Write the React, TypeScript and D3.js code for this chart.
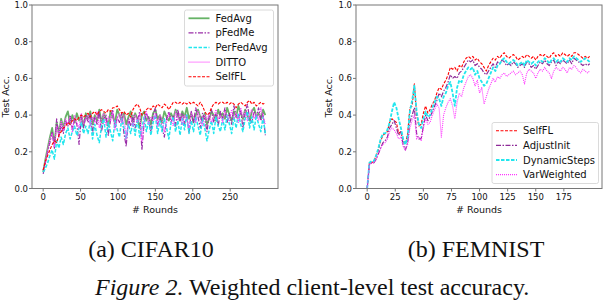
import React from "react";
import * as d3 from "d3";

// ---------- Data ----------
// (a) CIFAR10: values read every 3 rounds (0..297)
const cifarRounds = d3.range(0, 298, 3);
const cifarFedAvg = [
  0.09,0.16,0.22,0.28,0.33,0.24,0.36,0.30,0.38,0.33,0.39,0.42,0.35,0.40,0.36,0.41,0.37,0.40,0.34,0.41,
  0.38,0.42,0.35,0.40,0.37,0.43,0.36,0.41,0.38,0.34,0.42,0.39,0.36,0.43,0.40,0.37,0.41,0.35,0.39,0.42,
  0.36,0.41,0.38,0.33,0.40,0.42,0.37,0.39,0.35,0.41,0.43,0.38,0.40,0.36,0.42,0.39,0.37,0.41,0.38,0.43,
  0.40,0.37,0.42,0.39,0.44,0.38,0.41,0.36,0.40,0.43,0.39,0.37,0.41,0.35,0.38,0.42,0.40,0.37,0.43,0.39,
  0.41,0.38,0.44,0.40,0.37,0.42,0.39,0.45,0.41,0.38,0.43,0.40,0.37,0.42,0.44,0.39,0.41,0.38,0.43,0.40,
];
const cifarPFedMe = [
  0.08,0.14,0.20,0.25,0.31,0.22,0.38,0.28,0.35,0.30,0.37,0.34,0.40,0.32,0.38,0.35,0.24,0.39,0.33,0.40,
  0.36,0.41,0.30,0.39,0.35,0.42,0.31,0.38,0.40,0.29,0.37,0.43,0.33,0.39,0.36,0.41,0.30,0.23,0.38,0.34,
  0.40,0.33,0.37,0.42,0.21,0.36,0.41,0.38,0.31,0.40,0.44,0.35,0.39,0.33,0.28,0.38,0.42,0.36,0.40,0.34,
  0.43,0.37,0.41,0.35,0.40,0.30,0.42,0.36,0.44,0.39,0.33,0.41,0.38,0.31,0.40,0.43,0.36,0.41,0.34,0.42,
  0.38,0.44,0.36,0.41,0.35,0.45,0.40,0.37,0.43,0.33,0.41,0.46,0.38,0.36,0.42,0.39,0.44,0.37,0.41,0.29,
];
const cifarPerFedAvg = [
  0.09,0.11,0.14,0.18,0.21,0.16,0.26,0.22,0.28,0.24,0.30,0.33,0.27,0.31,0.34,0.29,0.33,0.36,0.30,0.34,
  0.30,0.37,0.27,0.35,0.29,0.25,0.34,0.38,0.28,0.36,0.31,0.26,0.37,0.32,0.28,0.38,0.33,0.27,0.35,0.30,
  0.36,0.29,0.38,0.28,0.33,0.39,0.31,0.37,0.29,0.36,0.40,0.30,0.37,0.31,0.38,0.33,0.27,0.36,0.39,0.31,
  0.37,0.29,0.38,0.32,0.40,0.30,0.37,0.31,0.39,0.34,0.29,0.38,0.33,0.26,0.32,0.37,0.30,0.39,0.34,0.31,
  0.38,0.32,0.40,0.35,0.30,0.39,0.33,0.41,0.35,0.31,0.38,0.42,0.33,0.39,0.32,0.40,0.35,0.31,0.39,0.30,
];
const cifarDitto = [
  0.10,0.15,0.21,0.27,0.30,0.23,0.34,0.29,0.37,0.32,0.38,0.35,0.39,0.31,0.40,0.36,0.33,0.41,0.35,0.38,
  0.40,0.34,0.39,0.36,0.42,0.33,0.38,0.41,0.35,0.39,0.37,0.42,0.32,0.38,0.41,0.36,0.40,0.27,0.37,0.39,
  0.34,0.40,0.36,0.41,0.26,0.38,0.42,0.35,0.39,0.37,0.41,0.34,0.40,0.38,0.31,0.36,0.41,0.38,0.34,0.42,
  0.37,0.41,0.35,0.40,0.38,0.33,0.41,0.39,0.36,0.42,0.38,0.34,0.40,0.37,0.41,0.36,0.39,0.43,0.38,0.40,
  0.36,0.42,0.39,0.37,0.43,0.38,0.41,0.36,0.44,0.39,0.42,0.37,0.40,0.43,0.38,0.41,0.37,0.44,0.39,0.35,
];
const cifarSelfFL = [
  0.10,0.15,0.18,0.21,0.24,0.26,0.25,0.29,0.31,0.33,0.34,0.36,0.35,0.37,0.38,0.37,0.39,0.40,0.39,0.40,
  0.41,0.39,0.41,0.42,0.40,0.42,0.43,0.42,0.41,0.43,0.42,0.44,0.44,0.45,0.43,0.41,0.42,0.40,0.41,0.39,
  0.43,0.45,0.46,0.44,0.40,0.41,0.43,0.44,0.43,0.45,0.44,0.46,0.45,0.44,0.46,0.45,0.43,0.45,0.47,0.47,
  0.46,0.47,0.46,0.47,0.46,0.47,0.46,0.47,0.46,0.45,0.47,0.45,0.42,0.40,0.41,0.44,0.46,0.47,0.46,0.47,
  0.47,0.46,0.47,0.46,0.47,0.46,0.44,0.46,0.47,0.46,0.45,0.47,0.48,0.46,0.47,0.45,0.46,0.47,0.46,0.47,
];

// (b) FEMNIST: values read every 2 rounds (0..198)
const femRounds = d3.range(0, 199, 2);
const femSelfFL = [
  0.00,0.14,0.14,0.15,0.18,0.21,0.26,0.29,0.30,0.31,0.36,0.38,0.37,0.36,0.30,0.31,0.26,0.24,0.30,0.44,
  0.45,0.57,0.40,0.34,0.35,0.41,0.45,0.41,0.43,0.46,0.48,0.52,0.55,0.54,0.57,0.59,0.62,0.66,0.65,0.66,
  0.64,0.67,0.66,0.69,0.71,0.72,0.71,0.72,0.70,0.71,0.69,0.68,0.66,0.64,0.67,0.69,0.71,0.70,0.72,0.71,
  0.73,0.74,0.72,0.71,0.72,0.73,0.72,0.70,0.71,0.72,0.71,0.73,0.72,0.71,0.72,0.70,0.72,0.73,0.72,0.73,
  0.72,0.71,0.73,0.74,0.72,0.73,0.72,0.74,0.73,0.72,0.73,0.72,0.74,0.74,0.73,0.72,0.71,0.72,0.71,0.72,
];
const femAdjustInit = [
  0.00,0.13,0.14,0.14,0.16,0.19,0.22,0.25,0.26,0.28,0.33,0.35,0.37,0.33,0.29,0.31,0.24,0.21,0.25,0.36,
  0.40,0.44,0.30,0.27,0.27,0.34,0.40,0.37,0.39,0.42,0.45,0.48,0.52,0.50,0.53,0.55,0.58,0.62,0.60,0.61,
  0.60,0.63,0.64,0.66,0.68,0.70,0.69,0.70,0.67,0.68,0.66,0.65,0.63,0.62,0.64,0.66,0.68,0.66,0.69,0.68,
  0.70,0.69,0.67,0.68,0.67,0.69,0.68,0.66,0.67,0.68,0.66,0.69,0.68,0.66,0.67,0.65,0.67,0.69,0.68,0.70,
  0.68,0.67,0.69,0.70,0.67,0.69,0.68,0.70,0.69,0.68,0.70,0.68,0.71,0.70,0.69,0.68,0.67,0.68,0.67,0.68,
];
const femDynamicSteps = [
  0.00,0.14,0.15,0.15,0.18,0.22,0.27,0.30,0.30,0.32,0.36,0.42,0.47,0.44,0.38,0.33,0.27,0.24,0.28,0.42,
  0.48,0.56,0.42,0.35,0.33,0.38,0.42,0.39,0.40,0.44,0.47,0.50,0.49,0.45,0.50,0.52,0.56,0.58,0.52,0.45,
  0.55,0.59,0.58,0.62,0.64,0.66,0.65,0.66,0.62,0.64,0.60,0.58,0.56,0.57,0.60,0.63,0.66,0.64,0.67,0.68,
  0.70,0.71,0.69,0.68,0.69,0.70,0.69,0.67,0.68,0.69,0.67,0.70,0.69,0.68,0.69,0.67,0.69,0.70,0.69,0.71,
  0.70,0.68,0.70,0.71,0.69,0.70,0.69,0.71,0.70,0.69,0.71,0.70,0.72,0.71,0.70,0.69,0.70,0.71,0.70,0.69,
];
const femVarWeighted = [
  0.00,0.13,0.14,0.14,0.16,0.19,0.22,0.24,0.25,0.27,0.31,0.33,0.32,0.30,0.27,0.28,0.23,0.21,0.24,0.33,
  0.37,0.40,0.27,0.28,0.26,0.33,0.38,0.35,0.36,0.40,0.43,0.46,0.44,0.28,0.40,0.44,0.47,0.49,0.45,0.38,
  0.47,0.52,0.50,0.55,0.58,0.61,0.62,0.60,0.56,0.59,0.52,0.55,0.46,0.50,0.54,0.57,0.60,0.58,0.61,0.60,
  0.62,0.63,0.61,0.62,0.63,0.64,0.62,0.63,0.64,0.62,0.57,0.63,0.65,0.64,0.63,0.60,0.63,0.65,0.64,0.66,
  0.64,0.63,0.60,0.64,0.66,0.65,0.64,0.66,0.65,0.63,0.66,0.65,0.67,0.66,0.64,0.63,0.65,0.64,0.63,0.64,
];

const yTicks = [0, 0.2, 0.4, 0.6, 0.8, 1.0];
const cifarXTicks = [0, 50, 100, 150, 200, 250];
const femXTicks = [0, 25, 50, 75, 100, 125, 150, 175];

type Series = { name: string; values: number[]; color: string; width: number; dash: string; opacity?: number };

const cifarSeries: Series[] = [
  { name: "FedAvg", values: cifarFedAvg, color: "#4ca64c", width: 1.8, dash: "", opacity: 0.85 },
  { name: "pFedMe", values: cifarPFedMe, color: "#9a2fa8", width: 1.2, dash: "5,1.5,1.5,1.5" },
  { name: "PerFedAvg", values: cifarPerFedAvg, color: "#22e6ee", width: 1.5, dash: "3.5,1.5" },
  { name: "DITTO", values: cifarDitto, color: "#ff44ff", width: 1.3, dash: "1,1" },
  { name: "SelfFL", values: cifarSelfFL, color: "#ff0000", width: 1.1, dash: "3,1.5" },
];
const femSeries: Series[] = [
  { name: "SelfFL", values: femSelfFL, color: "#ff0000", width: 1.1, dash: "3,1.5" },
  { name: "AdjustInit", values: femAdjustInit, color: "#8e2a98", width: 1.2, dash: "5,1.5,1.5,1.5" },
  { name: "DynamicSteps", values: femDynamicSteps, color: "#22e6ee", width: 1.8, dash: "3.5,1.5" },
  { name: "VarWeighted", values: femVarWeighted, color: "#ff33ff", width: 1.1, dash: "1,1" },
];

const FONT = "DejaVu Sans, sans-serif";
const SERIF = "Liberation Serif, Times New Roman, serif";
const TOP = 5;
const BOTTOM = 188.5;

function Panel(props: {
  left: number; right: number; rounds: number[]; series: Series[]; xTicks: number[];
  maxRound: number; yLabelX: number; legend: { x: number; y: number; w: number; h: number };
}) {
  const { left, right, rounds, series, xTicks, maxRound, yLabelX, legend } = props;
  const pad = maxRound * 0.05;
  const x = d3.scaleLinear().domain([-pad, maxRound + pad]).range([left, right]);
  const y = d3.scaleLinear().domain([0, 1]).range([BOTTOM, TOP]);
  const line = d3.line<number>().x((_, i) => x(rounds[i])).y((v) => y(v));
  const axisColor = "#777";
  return (
    <g>
      <rect x={left} y={TOP} width={right - left} height={BOTTOM - TOP} fill="#fff" />
      <g>
        {series.map((s) => (
          <path key={s.name} d={line(s.values) || ""} fill="none" stroke={s.color}
            strokeWidth={s.width} strokeDasharray={s.dash || undefined} opacity={s.opacity ?? 1}
            strokeLinejoin="round" />
        ))}
      </g>
      <rect x={left} y={TOP} width={right - left} height={BOTTOM - TOP} fill="none" stroke={axisColor} strokeWidth={1} />
      {yTicks.map((t) => (
        <g key={t}>
          <line x1={left - 3} x2={left} y1={y(t)} y2={y(t)} stroke={axisColor} />
          <text x={left - 4} y={y(t) + 3} textAnchor="end" fontSize={8.5} fontFamily={FONT} fill="#111">{t.toFixed(1)}</text>
        </g>
      ))}
      {xTicks.map((t) => (
        <g key={t}>
          <line x1={x(t)} x2={x(t)} y1={BOTTOM} y2={BOTTOM + 3} stroke={axisColor} />
          <text x={x(t)} y={BOTTOM + 11} textAnchor="middle" fontSize={8.5} fontFamily={FONT} fill="#111">{t}</text>
        </g>
      ))}
      <text x={(left + right) / 2} y={213} textAnchor="middle" fontSize={9.5} fontFamily={FONT} fill="#111"># Rounds</text>
      <text transform={`translate(${yLabelX},${(TOP + BOTTOM) / 2}) rotate(-90)`} textAnchor="middle" fontSize={9.5} fontFamily={FONT} fill="#111">Test Acc.</text>
      <g>
        <rect x={legend.x} y={legend.y} width={legend.w} height={legend.h} rx={2} fill="#fff" fillOpacity={0.85} stroke="#d0d0d0" strokeWidth={0.8} />
        {series.map((s, i) => {
          const cy = legend.y + 8.3 + i * 14.6;
          return (
            <g key={s.name}>
              <line x1={legend.x + 4} x2={legend.x + 25} y1={cy} y2={cy} stroke={s.color} strokeWidth={s.width}
                strokeDasharray={s.dash || undefined} opacity={s.opacity ?? 1} />
              <text x={legend.x + 31} y={cy + 3.5} fontSize={10} fontFamily={FONT} fill="#111">{s.name}</text>
            </g>
          );
        })}
      </g>
    </g>
  );
}

export default function App() {
  return (
    <svg width={604} height={302} style={{ position: "absolute", left: 0, top: 0, background: "#fff" }}
      xmlns="http://www.w3.org/2000/svg">
      <rect width={604} height={302} fill="#fff" />
      <Panel left={32} right={278} rounds={cifarRounds} series={cifarSeries} xTicks={cifarXTicks}
        maxRound={299} yLabelX={9} legend={{ x: 184.5, y: 10, w: 89, h: 76 }} />
      <Panel left={356} right={602} rounds={femRounds} series={femSeries} xTicks={femXTicks}
        maxRound={199} yLabelX={332} legend={{ x: 492, y: 122.5, w: 106.5, h: 61 }} />
      <text x={151} y={257} textAnchor="middle" fontSize={24} fontFamily={SERIF} fill="#111">(a) CIFAR10</text>
      <text x={476} y={257} textAnchor="middle" fontSize={24} fontFamily={SERIF} fill="#111">(b) FEMNIST</text>
      <text x={95} y={295} fontSize={24} fontFamily={SERIF} fill="#111">
        <tspan fontStyle="italic">Figure 2.</tspan> Weighted client-level test accuracy.
      </text>
    </svg>
  );
}
